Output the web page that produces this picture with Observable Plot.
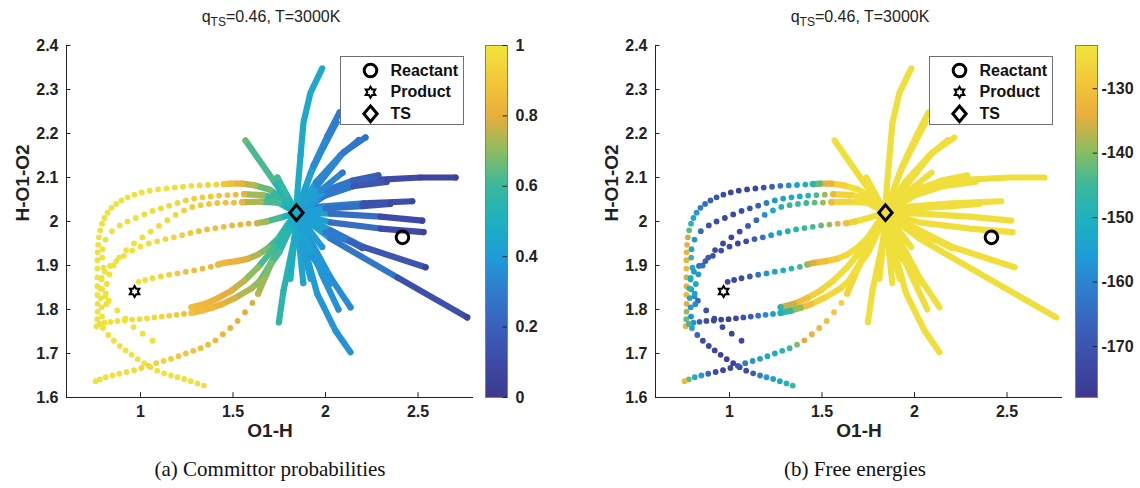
<!DOCTYPE html>
<html>
<head>
<meta charset="utf-8">
<script src="https://cdn.jsdelivr.net/npm/d3@7"></script>
<script src="https://cdn.jsdelivr.net/npm/@observablehq/plot@0.6"></script>
<style>
  html, body { margin: 0; padding: 0; background: #fff; }
  #fig { position: relative; width: 1140px; height: 488px; background: #fff; overflow: hidden;
         font-family: "Liberation Sans", Arial, sans-serif; color: #222; }
  #fig svg { max-width: none !important; }
  .abs { position: absolute; }
  .title { width: 300px; text-align: center; font-size: 16px; line-height: 16px; top: 9px; }
  .title sub { font-size: 12px; vertical-align: -4px; line-height: 0; }
  .caption { width: 400px; text-align: center; font-family: "Liberation Serif", "Times New Roman", serif;
             font-size: 21px; line-height: 20px; top: 459px; color: #111; }
</style>
</head>
<body>
<div id="fig">
  <div class="abs title" style="left:121px">q<sub>TS</sub>=0.46, T=3000K</div>
  <div class="abs title" style="left:710px">q<sub>TS</sub>=0.46, T=3000K</div>
  <div class="abs caption" style="left:70px">(a) Committor probabilities</div>
  <div class="abs caption" style="left:655px">(b) Free energies</div>
  <div class="abs" id="mainA" style="left:0px;top:0px;width:480px;height:488px"></div>
  <div class="abs" id="barA" style="left:485px;top:0px;width:70px;height:488px"></div>
  <div class="abs" id="mainB" style="left:589px;top:0px;width:480px;height:488px"></div>
  <div class="abs" id="barB" style="left:1075px;top:0px;width:65px;height:488px"></div>
</div>
<script>
// ---------------- axes / scales ----------------
const xDomain = [0.6, 2.8];
const yDomain = [1.6, 2.4];
const xTicks = [1, 1.5, 2, 2.5];
const yTicks = [1.6, 1.7, 1.8, 1.9, 2, 2.1, 2.2, 2.3, 2.4];
const qDomain = [0, 1];
const qTicks = [0, 0.2, 0.4, 0.6, 0.8, 1];
const gDomain = [-177.9, -123.3];
const gTicks = [-170, -160, -150, -140, -130];
const parulaStops = ["#3d3a8e", "#3d4ba7", "#3a61ba", "#2f7ccd", "#1f9cd8", "#1cb1c0",
                     "#3ab89c", "#8cbd5e", "#e9ad3c", "#f3c83a", "#efe53a"];

// ---------------- special points ----------------
const reactant = [[2.416, 1.964]];
const product = [[0.968, 1.841]];
const tsPoint = [[1.843, 2.02]];
const legendLabels = ["Reactant", "Product", "TS"];

// ---------------- trajectories: [O1-H, H-O1-O2, committor, free energy] ----------------
// dense parts (drawn as continuous streaks)
const fanR1 = [[1.843,2.020,0.47,-124.5],[1.849,2.070,0.47,-124.5],[1.865,2.150,0.46,-124.5],[1.881,2.225,0.46,-124.5],[1.919,2.293,0.46,-124.5],[1.982,2.348,0.46,-124.5]];
const fanR2 = [[1.843,2.02,0.42,-124.5],[1.935,2.127,0.34,-124.5],[2.011,2.195,0.31,-124.5],[2.076,2.248,0.30,-124.5]];
const fanR2b = [[1.843,2.02,0.42,-124.5],[1.92,2.11,0.35,-124.5],[1.99,2.17,0.32,-124.5],[2.059,2.225,0.31,-124.5]];
const fanR3 = [[1.843,2.02,0.42,-124.5],[1.957,2.082,0.33,-124.5],[2.097,2.157,0.28,-124.5],[2.216,2.191,0.26,-124.5]];
const fanR3b = [[1.843,2.02,0.42,-124.5],[1.973,2.07,0.33,-124.5],[2.092,2.111,0.28,-124.5]];
const fanR3c = [[1.843,2.02,0.42,-124.5],[1.95,2.09,0.33,-124.5],[2.08,2.15,0.29,-124.5],[2.18,2.185,0.27,-124.5]];
const fanR4 = [[1.843,2.02,0.40,-124.5],[2.0,2.07,0.28,-124.5],[2.146,2.093,0.20,-124.5],[2.286,2.105,0.15,-124.5]];
const fanR5 = [[1.843,2.02,0.40,-124.5],[1.957,2.048,0.30,-124.5],[2.081,2.082,0.20,-124.5],[2.297,2.095,0.10,-124.5],[2.514,2.1,0.06,-124.5],[2.703,2.1,0.05,-124.5]];
const fanR5b = [[1.843,2.02,0.40,-124.5],[1.97,2.055,0.28,-124.5],[2.15,2.08,0.15,-124.5],[2.33,2.09,0.09,-124.5]];
const fanR6 = [[1.843,2.02,0.40,-124.5],[1.919,2.032,0.30,-124.5],[2.205,2.041,0.12,-124.5],[2.469,2.046,0.07,-124.5]];
const fanR6b = [[1.843,2.02,0.41,-124.5],[2.0,2.03,0.26,-124.5],[2.2,2.035,0.13,-124.5],[2.35,2.04,0.09,-124.5]];
const fanR7 = [[1.843,2.02,0.42,-124.5],[2.027,2.018,0.25,-124.5],[2.297,2.011,0.10,-124.5],[2.523,2.002,0.06,-124.5]];
const fanR8 = [[1.843,2.02,0.42,-124.5],[2.027,1.998,0.25,-124.5],[2.297,1.984,0.10,-124.5],[2.53,1.976,0.06,-124.5]];
const fanR9 = [[1.843,2.02,0.42,-124.5],[2.027,1.98,0.28,-124.5],[2.205,1.942,0.15,-124.5],[2.541,1.896,0.05,-124.5]];
const fanR9b = [[1.843,2.02,0.42,-124.5],[2.0,1.975,0.30,-124.5],[2.13,1.955,0.20,-124.5],[2.2,1.94,0.16,-124.5]];
const fanR10 = [[1.843,2.02,0.42,-124.5],[2.027,1.961,0.28,-124.5],[2.388,1.873,0.12,-124.5],[2.766,1.782,0.03,-124.5]];
const fanR11 = [[1.843,2.02,0.44,-124.5],[1.881,1.986,0.38,-124.5],[2.027,1.873,0.35,-124.5],[2.135,1.805,0.34,-124.5]];
const fanR11b = [[1.843,2.02,0.44,-124.5],[1.9,1.96,0.40,-124.5],[1.98,1.88,0.37,-124.5],[2.07,1.80,0.35,-124.5]];
const fanR12 = [[1.843,2.02,0.44,-124.5],[1.865,1.973,0.40,-124.5],[1.955,1.836,0.38,-124.5],[2.054,1.752,0.37,-124.5],[2.135,1.703,0.37,-124.5]];
const fanR12b = [[1.843,2.02,0.45,-124.5],[1.87,1.95,0.41,-124.5],[1.92,1.87,0.40,-124.5]];
const fanR13 = [[1.843,2.02,0.48,-124.5],[1.838,1.973,0.53,-124.5],[1.773,1.843,0.56,-124.5],[1.748,1.771,0.57,-124.5]];
const fanR14 = [[1.843,2.02,0.42,-124.5],[1.982,1.942,0.38,-124.5]];
const fanR15 = [[1.843,2.02,0.42,-124.5],[1.93,1.92,0.38,-124.5],[2.027,1.859,0.37,-124.5]];
const fanD1 = [[1.843,2.02,0.47,-124.5],[1.83,1.95,0.49,-124.5],[1.81,1.87,0.52,-124.5]];
const fanD2 = [[1.843,2.02,0.46,-124.5],[1.86,1.94,0.44,-124.5],[1.88,1.86,0.43,-124.5]];
const fanL1 = [[1.843,2.02,0.52,-124.5],[1.719,2.093,0.62,-124.5],[1.568,2.184,0.66,-124.5]];
const fanL2 = [[1.843,2.02,0.53,-124.5],[1.768,2.077,0.58,-124.5]];
const fanL3 = [[1.843,2.02,0.53,-124.5],[1.79,2.06,0.58,-124.5],[1.74,2.1,0.62,-124.5]];

const arcAStreak = [[1.843,2.02,0.50,-124.5],[1.78,2.05,0.58,-124.5],[1.70,2.072,0.66,-124.5],[1.62,2.082,0.75,-127],[1.55,2.086,0.82,-133],[1.49,2.086,0.87,-142],[1.45,2.085,0.90,-147]];
const arcBStreak = [[1.843,2.02,0.50,-124.5],[1.76,2.05,0.60,-124.5],[1.66,2.06,0.72,-126.5],[1.56,2.062,0.82,-132]];
const arcCStreak = [[1.843,2.02,0.50,-124.5],[1.75,2.042,0.62,-124.5],[1.65,2.045,0.74,-126.5],[1.55,2.044,0.83,-132]];
const arcDStreak = [[1.843,2.02,0.50,-124.5],[1.75,2.008,0.62,-124.5],[1.68,2.0,0.72,-127],[1.63,1.996,0.78,-130.5]];
const arcEStreak = [[1.843,2.02,0.50,-124.5],[1.79,1.99,0.56,-124.5],[1.745,1.962,0.62,-124.5],[1.69,1.94,0.68,-124.5],[1.636,1.925,0.74,-125.5],[1.58,1.915,0.79,-128],[1.52,1.91,0.82,-130.5],[1.456,1.906,0.84,-134.5],[1.42,1.902,0.85,-139]];
const lowF1Streak = [[1.843,2.02,0.50,-124.5],[1.80,1.985,0.55,-124.5],[1.726,1.942,0.62,-124.5],[1.636,1.896,0.70,-124.5],[1.56,1.865,0.76,-125.5],[1.492,1.843,0.80,-127],[1.42,1.826,0.82,-130.5],[1.35,1.813,0.84,-136],[1.276,1.805,0.86,-148.5]];
const lowF2Streak = [[1.843,2.02,0.50,-124.5],[1.79,1.97,0.56,-124.5],[1.73,1.925,0.62,-124.5],[1.69,1.895,0.66,-124.5],[1.645,1.865,0.70,-124.5],[1.6,1.848,0.74,-125.5],[1.51,1.826,0.79,-127],[1.44,1.812,0.82,-130.5],[1.384,1.804,0.84,-139],[1.33,1.797,0.86,-146],[1.276,1.792,0.88,-152]];
const lowHStreak = [[1.843,2.02,0.50,-124.5],[1.80,1.975,0.55,-124.5],[1.75,1.93,0.62,-124.5],[1.708,1.905,0.68,-124.5],[1.67,1.87,0.72,-125.5],[1.636,1.836,0.76,-126.5]];

// sparse parts (individual points)
const arcADots = [[1.41,2.084,0.93,-150.5],[1.365,2.083,0.95,-154.5],[1.32,2.082,0.96,-158.5],[1.275,2.081,0.97,-164],[1.23,2.079,0.98,-168],[1.185,2.077,0.98,-171],[1.14,2.075,0.99,-174],[1.095,2.073,0.99,-175],[1.05,2.07,0.99,-175],[1.007,2.066,0.99,-174],[0.967,2.061,0.99,-172.5],[0.93,2.055,0.99,-170],[0.897,2.048,0.99,-168],[0.868,2.04,0.99,-165],[0.843,2.031,0.99,-161],[0.822,2.02,0.99,-157],[0.805,2.008,0.99,-153],[0.792,1.995,0.99,-148.5],[0.782,1.98,0.99,-143],[0.775,1.964,0.99,-137],[0.771,1.947,0.99,-133.5],[0.768,1.93,0.99,-133],[0.767,1.912,0.99,-133.5],[0.767,1.893,0.99,-132],[0.767,1.873,0.99,-135.5],[0.767,1.853,0.99,-133],[0.767,1.833,0.99,-132],[0.768,1.813,0.99,-134.5],[0.768,1.795,0.99,-139],[0.766,1.778,0.99,-142],[0.763,1.762,0.99,-133]];
const arcBDots = [[1.515,2.061,0.86,-139],[1.47,2.06,0.88,-144.5],[1.425,2.059,0.89,-148.5],[1.38,2.057,0.90,-152],[1.335,2.055,0.91,-153.5],[1.29,2.052,0.92,-155.5],[1.245,2.048,0.93,-157],[1.2,2.042,0.95,-162],[1.155,2.036,0.96,-168],[1.11,2.03,0.97,-171],[1.065,2.024,0.98,-172.5],[1.02,2.016,0.98,-174],[0.975,2.008,0.99,-174],[0.93,2.0,0.99,-172.5],[0.888,1.991,0.99,-171],[0.845,1.978,0.99,-166],[0.811,1.959,0.99,-157],[0.795,1.937,0.99,-153],[0.793,1.918,0.99,-145.5],[0.80,1.895,0.99,-153],[0.79,1.872,0.99,-148.5],[0.793,1.846,0.99,-153],[0.81,1.83,0.99,-159.5],[0.829,1.82,0.99,-166],[0.874,1.798,0.99,-171],[0.918,1.779,0.99,-172.5],[0.962,1.76,0.99,-174],[1.012,1.745,0.99,-175],[1.065,1.729,0.99,-174]];
const arcCDots = [[1.505,2.043,0.86,-139],[1.46,2.043,0.87,-143],[1.415,2.042,0.88,-145.5],[1.37,2.04,0.89,-146],[1.325,2.037,0.90,-147],[1.28,2.033,0.91,-148.5],[1.235,2.025,0.93,-153],[1.19,2.015,0.95,-158.5],[1.145,2.003,0.96,-166],[1.1,1.99,0.97,-170],[1.055,1.977,0.98,-172.5],[1.01,1.964,0.98,-174],[0.965,1.95,0.99,-174],[0.922,1.935,0.99,-172.5],[0.885,1.918,0.99,-169],[0.855,1.9,0.99,-164],[0.832,1.88,0.99,-157],[0.818,1.858,0.99,-153],[0.812,1.836,0.99,-154.5],[0.815,1.812,0.99,-159.5]];
const arcDDots = [[1.585,1.995,0.82,-133.5],[1.54,1.993,0.83,-139],[1.495,1.991,0.84,-142],[1.45,1.988,0.85,-144.5],[1.405,1.985,0.86,-146],[1.36,1.982,0.87,-148.5],[1.315,1.978,0.88,-150.5],[1.27,1.974,0.90,-153],[1.225,1.969,0.92,-157],[1.18,1.964,0.94,-164],[1.135,1.96,0.96,-169],[1.09,1.955,0.97,-172.5],[1.045,1.95,0.98,-174],[1.0,1.943,0.99,-174],[0.955,1.934,0.99,-172.5],[0.91,1.922,0.99,-171],[0.87,1.91,0.99,-168],[0.835,1.899,0.99,-164],[0.808,1.886,0.99,-157],[0.79,1.868,0.99,-150.5],[0.783,1.848,0.99,-148.5],[0.785,1.826,0.99,-153],[0.79,1.805,0.99,-157],[0.792,1.784,0.99,-158.5],[0.797,1.758,0.99,-153.5],[0.826,1.742,0.99,-166],[0.856,1.729,0.99,-172.5],[0.888,1.717,0.99,-174],[0.92,1.707,0.99,-175],[0.952,1.697,0.99,-175],[0.985,1.687,0.99,-175],[1.02,1.678,0.99,-175],[1.055,1.669,0.99,-174],[1.09,1.661,0.99,-172.5],[1.128,1.655,0.99,-168],[1.165,1.65,0.99,-161],[1.2,1.646,0.99,-157],[1.236,1.642,0.99,-154.5],[1.272,1.637,0.99,-153],[1.308,1.632,0.99,-148.5],[1.342,1.627,0.99,-145.5]];
const arcEDots = [[1.38,1.897,0.84,-144.5],[1.335,1.893,0.85,-148.5],[1.29,1.889,0.86,-152],[1.245,1.886,0.87,-154.5],[1.2,1.882,0.90,-157.5],[1.155,1.879,0.93,-164],[1.11,1.875,0.95,-169],[1.065,1.871,0.97,-172.5],[1.025,1.867,0.98,-174],[0.99,1.863,0.99,-174]];
const lowFDots = [[1.235,1.79,0.88,-155.5],[1.195,1.788,0.91,-159.5],[1.155,1.786,0.93,-164],[1.115,1.784,0.95,-168],[1.075,1.782,0.96,-171],[1.035,1.78,0.97,-174],[0.995,1.778,0.98,-175],[0.955,1.777,0.98,-175],[0.915,1.775,0.99,-174],[0.875,1.774,0.99,-172.5],[0.838,1.772,0.99,-168],[0.805,1.77,0.99,-157],[0.78,1.767,0.99,-144.5]];
const lowHDots = [[1.605,1.815,0.78,-127],[1.565,1.794,0.80,-129],[1.525,1.774,0.81,-130.5],[1.485,1.758,0.82,-132],[1.445,1.744,0.83,-133.5],[1.405,1.73,0.84,-134.5],[1.365,1.72,0.86,-140.5],[1.325,1.712,0.87,-145.5],[1.285,1.706,0.88,-148.5],[1.245,1.7,0.89,-151],[1.205,1.694,0.90,-153.5],[1.165,1.688,0.92,-155.5],[1.125,1.683,0.93,-157],[1.085,1.678,0.94,-162],[1.045,1.672,0.95,-169],[1.005,1.667,0.96,-172.5],[0.965,1.662,0.97,-174],[0.925,1.658,0.98,-172.5],[0.885,1.654,0.99,-166],[0.848,1.65,0.99,-157],[0.812,1.646,0.99,-151],[0.78,1.641,0.99,-142],[0.757,1.637,0.99,-132]];

const streakSets = {arcAStreak, arcBStreak, arcCStreak, arcDStreak, arcEStreak, lowF1Streak, lowF2Streak, lowHStreak,
  fanL1, fanL2, fanL3, fanR13, fanD1, fanD2, fanR12, fanR12b, fanR11, fanR11b, fanR15, fanR14, fanR10, fanR9, fanR9b, fanR8, fanR7,
  fanR6, fanR6b, fanR5, fanR5b, fanR4, fanR3c, fanR3b, fanR3, fanR2b, fanR2, fanR1};
const dotSets = {arcADots, arcBDots, arcCDots, arcDDots, arcEDots, lowFDots, lowHDots};

function toRows(sets) {
  return Object.entries(sets).flatMap(([traj, arr]) => arr.map(([x, y, q, g]) => ({traj, x, y, q, g})));
}
const streakRows = toRows(streakSets);
const dotRows = toRows(dotSets);

// ---------------- symbols ----------------
const diamondSym = {draw(ctx, size) { const r = Math.sqrt(size / Math.PI);
  ctx.moveTo(0, -1.12 * r); ctx.lineTo(0.95 * r, 0); ctx.lineTo(0, 1.12 * r); ctx.lineTo(-0.95 * r, 0); ctx.closePath(); }};
const hexagramSym = {draw(ctx, size) { const r = Math.sqrt(size / Math.PI);
  for (let i = 0; i < 12; i++) { const a = -Math.PI / 2 + i * Math.PI / 6; const rr = i % 2 ? r * 0.58 : r;
    const px = rr * Math.cos(a), py = rr * Math.sin(a); if (i === 0) ctx.moveTo(px, py); else ctx.lineTo(px, py); }
  ctx.closePath(); }};

const parula = d3.piecewise(d3.interpolateRgb, parulaStops);
const ink = "#222";

function mainPlot(key, domain) {
  return Plot.plot({
    width: 480, height: 488, marginLeft: 66, marginRight: 7, marginTop: 45, marginBottom: 91,
    x: {domain: xDomain}, y: {domain: yDomain},
    color: {type: "linear", domain, interpolate: parula},
    style: {fontFamily: "'Liberation Sans', Arial, sans-serif", fontSize: "16px", fontWeight: "bold", color: ink, background: "transparent", overflow: "visible"},
    marks: [
      Plot.line(streakRows, {x: "x", y: "y", z: "traj", stroke: key, strokeWidth: 6.2, strokeLinecap: "round", strokeLinejoin: "round"}),
      Plot.dot(dotRows, {x: "x", y: "y", fill: key, r: 2.9}),
      Plot.ruleX([xDomain[0]], {stroke: ink, strokeWidth: 1}),
      Plot.ruleY([yDomain[0]], {stroke: ink, strokeWidth: 1}),
      Plot.ruleX(xTicks, {y1: yDomain[0], y2: yDomain[0] + 0.011, stroke: ink}),
      Plot.ruleY(yTicks, {x1: xDomain[0], x2: xDomain[0] + 0.024, stroke: ink}),
      Plot.axisX({ticks: xTicks, tickSize: 0, tickPadding: 8, tickFormat: d => String(d), label: null}),
      Plot.axisY({ticks: yTicks, tickSize: 0, tickPadding: 8, tickFormat: d => String(d), label: null}),
      Plot.text(["O1-H"], {frameAnchor: "bottom", dy: 39, fontSize: 19}),
      Plot.text(["H-O1-O2"], {frameAnchor: "left", dx: -44, rotate: -90, fontSize: 19}),
      Plot.dot(reactant, {x: d => d[0], y: d => d[1], symbol: "circle", r: 6.3, stroke: "#000", strokeWidth: 3, fill: "none"}),
      Plot.dot(product, {x: d => d[0], y: d => d[1], symbol: hexagramSym, r: 5.5, stroke: "#000", strokeWidth: 2, fill: "none"}),
      Plot.dot(tsPoint, {x: d => d[0], y: d => d[1], symbol: diamondSym, r: 7, stroke: "#000", strokeWidth: 3, fill: "none"}),
      Plot.frame({fill: "#fff", stroke: "#707070", strokeWidth: 1, insetLeft: 274, insetRight: 10, insetTop: 11, insetBottom: 273}),
      Plot.dot([0], {frameAnchor: "top-left", dx: 304, dy: 25, symbol: "circle", r: 6.3, stroke: "#000", strokeWidth: 3, fill: "none"}),
      Plot.dot([0], {frameAnchor: "top-left", dx: 304, dy: 46.7, symbol: hexagramSym, r: 5.5, stroke: "#000", strokeWidth: 2, fill: "none"}),
      Plot.dot([0], {frameAnchor: "top-left", dx: 304, dy: 68.3, symbol: diamondSym, r: 7, stroke: "#000", strokeWidth: 3, fill: "none"}),
      Plot.text([legendLabels[0]], {frameAnchor: "top-left", dx: 324, dy: 25, textAnchor: "start", lineAnchor: "middle", fill: "#111"}),
      Plot.text([legendLabels[1]], {frameAnchor: "top-left", dx: 324, dy: 46.7, textAnchor: "start", lineAnchor: "middle", fill: "#111"}),
      Plot.text([legendLabels[2]], {frameAnchor: "top-left", dx: 324, dy: 68.3, textAnchor: "start", lineAnchor: "middle", fill: "#111"})
    ]
  });
}

function colorBar(domain, ticks, width) {
  const n = 240, step = (domain[1] - domain[0]) / n;
  const slices = d3.range(n).map(i => domain[0] + i * step);
  return Plot.plot({
    width, height: 488, marginLeft: 0, marginRight: width - 22, marginTop: 45, marginBottom: 91,
    x: {domain: [0, 1], axis: null}, y: {domain},
    color: {type: "linear", domain, interpolate: parula},
    style: {fontFamily: "'Liberation Sans', Arial, sans-serif", fontSize: "16px", fontWeight: "bold", color: ink, background: "transparent", overflow: "visible"},
    marks: [
      Plot.rect(slices, {x1: 0, x2: 1, y1: d => d, y2: d => Math.min(domain[1], d + step * 2.5), fill: d => d + step / 2, shapeRendering: "crispEdges"}),
      Plot.frame({stroke: "#808080", strokeWidth: 1}),
      Plot.ruleY(ticks, {x1: 0.8, x2: 1, stroke: ink}),
      Plot.axisY({anchor: "right", ticks, tickSize: 0, tickPadding: width > 66 ? 8 : 4, tickFormat: d => String(d), label: null})
    ]
  });
}

document.getElementById("mainA").append(mainPlot("q", qDomain));
document.getElementById("barA").append(colorBar(qDomain, qTicks, 70));
document.getElementById("mainB").append(mainPlot("g", gDomain));
document.getElementById("barB").append(colorBar(gDomain, gTicks, 65));
</script>
</body>
</html>
